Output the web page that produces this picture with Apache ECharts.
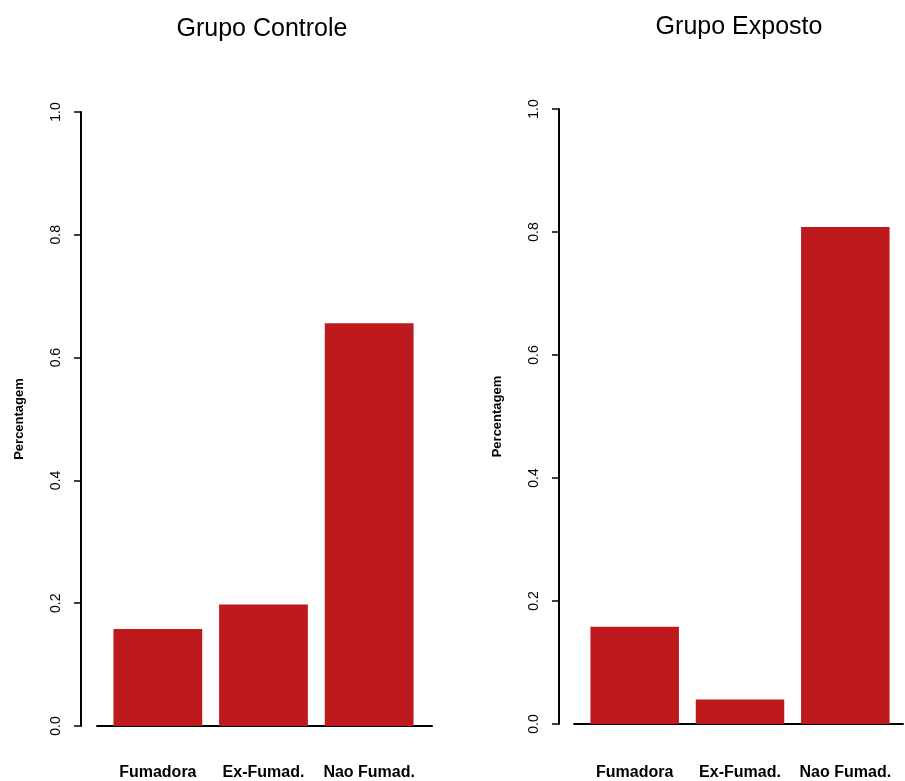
<!DOCTYPE html>
<html>
<head>
<meta charset="utf-8">
<script src="https://cdn.jsdelivr.net/npm/echarts@6/dist/echarts.min.js"></script>
<style>
html,body{margin:0;padding:0;background:#fff;}
#chart{width:905px;height:781px;}
</style>
</head>
<body>
<div id="chart"></div>
<script>
const categories = ['Fumadora', 'Ex-Fumad.', 'Nao Fumad.'];
const controleValues = [0.158, 0.198, 0.656];
const expostoValues = [0.158, 0.040, 0.808];
const panelTitles = ['Grupo Controle', 'Grupo Exposto'];
const yAxisName = 'Percentagem';

const FONT = '"Liberation Sans", Arial, sans-serif';
const BAR = '#be1a1e';

function barYAxis(gridIndex, offset) {
  return {
    gridIndex: gridIndex, type: 'value', min: 0, max: 1, interval: 0.2,
    offset: offset,
    name: yAxisName, nameLocation: 'middle', nameGap: 55,
    nameTextStyle: { fontFamily: FONT, fontSize: 13, fontWeight: 'bold', color: '#000' },
    axisLine: { show: true, lineStyle: { color: '#000', width: 2 } },
    axisTick: { show: true, length: 7, lineStyle: { color: '#000', width: 1.5 } },
    axisLabel: { rotate: 90, margin: 18, fontFamily: FONT, fontSize: 14, color: '#000',
      formatter: v => v.toFixed(1) },
    splitLine: { show: false }
  };
}
function barXAxis(gridIndex, margin) {
  return {
    gridIndex: gridIndex, type: 'category', data: categories,
    axisLine: { show: false }, axisTick: { show: false },
    axisLabel: { interval: 0, hideOverlap: false, margin: margin, fontFamily: FONT, fontSize: 16,
      fontWeight: 'bold', color: '#000' }
  };
}
function lineXAxis(gridIndex) {
  return {
    gridIndex: gridIndex, type: 'value', min: 0, max: 1,
    axisLine: { show: true, lineStyle: { color: '#000', width: 2 } },
    axisTick: { show: false }, axisLabel: { show: false }, splitLine: { show: false }
  };
}
function hiddenY(gridIndex) {
  return { gridIndex: gridIndex, type: 'value', min: 0, max: 1, show: false };
}

const chart = echarts.init(document.getElementById('chart'));
chart.setOption({
  animation: false,
  backgroundColor: '#fff',
  title: [
    { text: panelTitles[0], left: 257, top: 12, textAlign: 'center',
      textStyle: { fontFamily: FONT, fontSize: 25, fontWeight: 'normal', color: '#000' } },
    { text: panelTitles[1], left: 734, top: 10, textAlign: 'center',
      textStyle: { fontFamily: FONT, fontSize: 25, fontWeight: 'normal', color: '#000' } }
  ],
  grid: [
    { left: 105, width: 317, top: 112, height: 614 },
    { left: 582, width: 316, top: 109, height: 615 },
    { left: 97, width: 335, top: 112, height: 614 },
    { left: 574, width: 329, top: 109, height: 615 }
  ],
  xAxis: [barXAxis(0, 39), barXAxis(1, 41), lineXAxis(2), lineXAxis(3)],
  yAxis: [barYAxis(0, 24), barYAxis(1, 23), hiddenY(2), hiddenY(3)],
  series: [
    { type: 'bar', xAxisIndex: 0, yAxisIndex: 0, data: controleValues,
      barCategoryGap: '16%', itemStyle: { color: BAR } },
    { type: 'bar', xAxisIndex: 1, yAxisIndex: 1, data: expostoValues,
      barCategoryGap: '16%', itemStyle: { color: BAR } }
  ]
});
</script>
</body>
</html>
